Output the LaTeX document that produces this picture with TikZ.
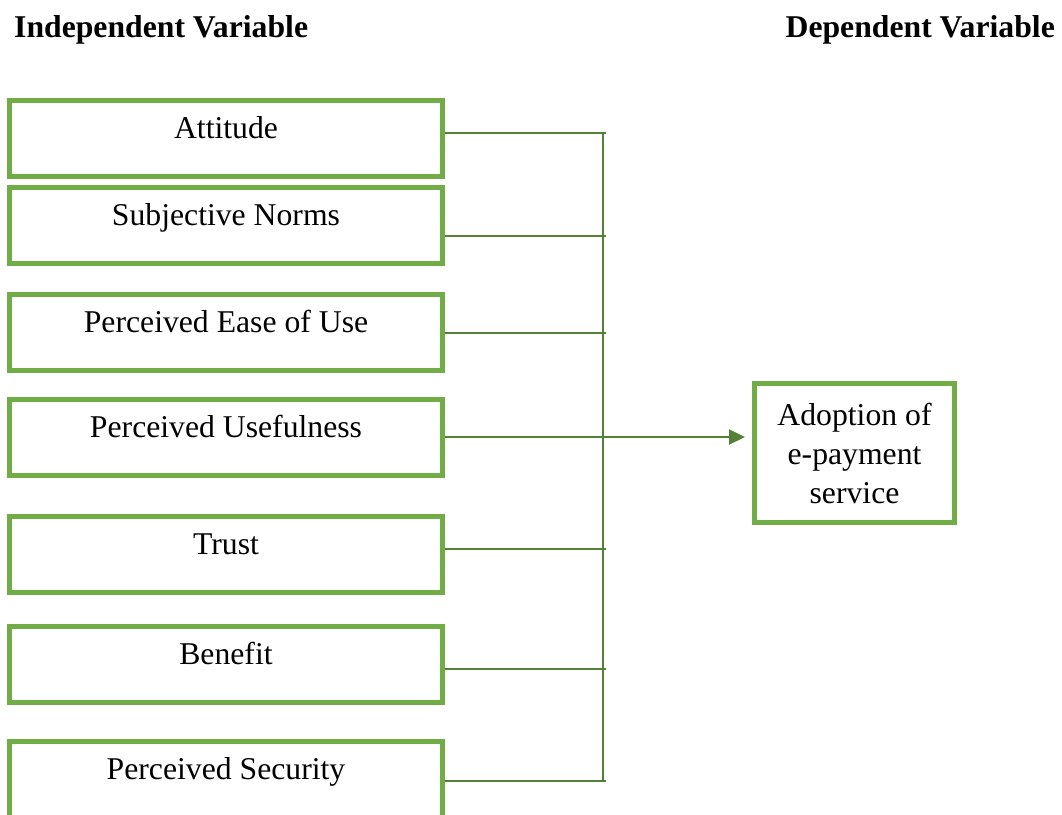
\documentclass[tikz,border=0pt]{standalone}
\usepackage{fontspec}
\setmainfont{Liberation Serif}
\usetikzlibrary{arrows.meta}
\definecolor{boxgreen}{HTML}{70AD47}
\definecolor{linegreen}{HTML}{538135}
\begin{document}
\begin{tikzpicture}[x=1pt,y=-1pt,
  txt/.style={font=\fontsize{31.7}{39}\selectfont},
  hdr/.style={font=\fontsize{31.7}{39}\selectfont\bfseries, inner sep=0pt},
  varbox/.style={draw=boxgreen, line width=5pt, rectangle, txt, anchor=north,
    minimum width=433pt, inner xsep=0pt, inner ysep=0pt,
    text height=38.5pt, text depth=37.5pt},
  depbox/.style={draw=boxgreen, line width=5pt, rectangle, txt, align=center,
    minimum width=200pt, minimum height=139pt, inner sep=0pt},
  conn/.style={draw=linegreen, line width=2pt},
  arrowconn/.style={conn, -{Triangle[length=16pt,width=15pt]}, shorten >=7pt}
]
\useasboundingbox (0,0) rectangle (1062,814);
\clip (0,0) rectangle (1062,814);
\fill[white] (0,0) rectangle (1062,814);

\node[hdr, anchor=base west] (hi) at (14,37) {Independent Variable};
\node[hdr, anchor=base east] (hd) at (1055,37) {Dependent Variable};

\node[varbox] (v1) at (226,97.5) {Attitude};
\node[varbox] (v2) at (226,184.5) {Subjective Norms};
\node[varbox] (v3) at (226,291.5) {Perceived Ease of Use};
\node[varbox] (v4) at (226,396.5) {Perceived Usefulness};
\node[varbox] (v5) at (226,513.5) {Trust};
\node[varbox] (v6) at (226,623.5) {Benefit};
\node[varbox] (v7) at (226,738.5) {Perceived Security};

\node[depbox] (dep) at (854.5,453) {Adoption of\\e-payment\\service};

\coordinate (b1) at (606,133);
\coordinate (b2) at (606,236);
\coordinate (b3) at (606,333);
\coordinate (b4) at (606,437);
\coordinate (b5) at (606,549);
\coordinate (b6) at (606,669);
\coordinate (b7) at (606,781);
\coordinate (bustop) at (603,133);
\coordinate (busbot) at (603,781);
\coordinate (busmid) at (603,437);

\foreach \i in {1,...,7}{
  \draw[conn] (v\i.east |- b\i) -- (b\i);
}
\draw[conn] (bustop) -- (busbot);
\draw[arrowconn] (busmid) -- (dep.west |- busmid);
\end{tikzpicture}
\end{document}
